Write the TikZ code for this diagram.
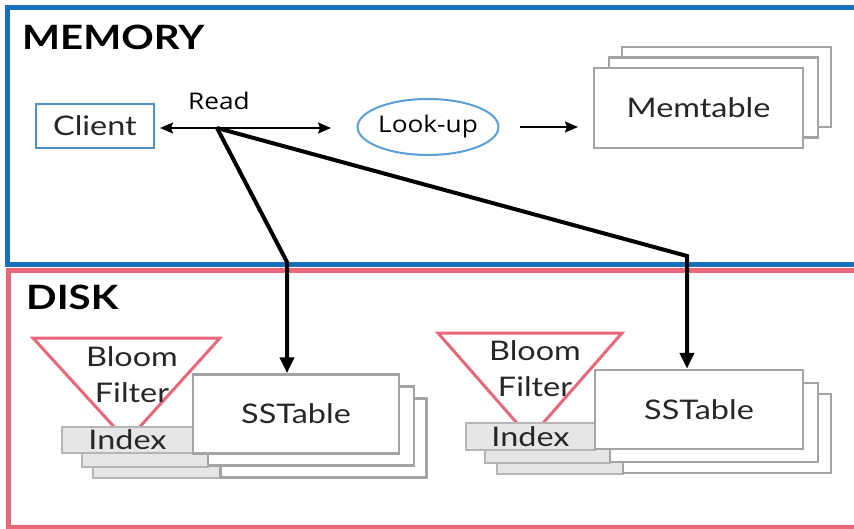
\documentclass[tikz,border=0pt]{standalone}
\usepackage{fontspec}
\setmainfont{Lato}[FakeStretch=1.2]
\newfontfamily\uifont{Open Sans}[FakeStretch=1.14]
\usetikzlibrary{arrows.meta,shapes.geometric}

\definecolor{memblue}{HTML}{1A6FB9}
\definecolor{diskpink}{HTML}{E8687A}
\definecolor{clientblue}{HTML}{4A90CB}
\definecolor{lookblue}{HTML}{5C9FD6}
\definecolor{stackgray}{HTML}{A3A3A3}
\definecolor{indexfill}{HTML}{E6E6E6}

\begin{document}
\begin{tikzpicture}[x=1pt,y=-1pt,
  memframe/.style={draw=memblue, line width=5pt},
  diskframe/.style={draw=diskpink, line width=5pt},
  sectiontitle/.style={font=\fontsize{33.5}{33.5}\selectfont\bfseries, anchor=base west, inner sep=0pt},
  boxtext/.style={font=\fontsize{27}{27}\selectfont, text=black!85},
  uilabel/.style={font=\uifont\fontsize{23}{23}\selectfont, text=black},
  stackbox/.style={draw=stackgray, line width=2.5pt, fill=white, inner sep=0pt},
  idxbox/.style={draw=stackgray!80, line width=1.5pt, fill=indexfill, inner sep=0pt,
    minimum height=26pt},
  bloom/.style={draw=diskpink, line width=3pt, fill=white, line join=miter},
  bloomtext/.style={font=\fontsize{27}{36}\selectfont, align=center, text=black!85},
  thinarrow/.style={line width=2pt, -{Stealth[length=13pt,width=11pt,inset=2pt]}},
  readpath/.style={line width=4pt, line join=miter, -{Triangle[length=16pt,width=14pt]}}
]
\useasboundingbox (0,0) rectangle (854,529);
\fill[white] (0,0) rectangle (854,529);

% ---- memory and disk frames ----
\draw[memframe] (7.5,7.5) rectangle (880,265);
\draw[diskframe] (8,270.5) rectangle (880,527);

\node[sectiontitle] (memtitle) at (22,50) {MEMORY};
\node[sectiontitle] (disktitle) at (26,310) {DISK};

% ---- memory side ----
\node[draw=clientblue, line width=2pt, minimum width=118pt, minimum height=44pt,
      inner sep=0pt, boxtext] (client) at (95,126) {Client};
\node[uilabel] (readlbl) at (219,101) {Read};
\node[draw=lookblue, line width=2pt, ellipse, minimum width=140pt, minimum height=56pt,
      inner sep=0pt, uilabel] (lookup) at (428,127) {Look-up};

\node[stackbox, minimum width=209pt, minimum height=80pt] (mem3) at (726.5,87) {};
\node[stackbox, minimum width=209pt, minimum height=80pt] (mem2) at (713.5,97.5) {};
\node[stackbox, minimum width=209pt, minimum height=80pt, boxtext] (mem1) at (698.5,108) {Memtable};

\coordinate (readpt) at (217,128);
\coordinate (arrL) at (160,128);
\coordinate (arrR) at (331,128);
\draw[line width=2pt, {Stealth[length=13pt,width=11pt,inset=2pt]}-{Stealth[length=13pt,width=11pt,inset=2pt]}]
  (arrL) -- (arrR);
\coordinate (lkR) at (520,127);
\coordinate (memL) at (578,127);
\draw[thinarrow] (lkR) -- (memL);

% ---- disk side, left group ----
\coordinate (bfA1) at (33,338);
\coordinate (bfB1) at (220,338);
\coordinate (bfC1) at (127,441);
\draw[bloom] (bfA1) -- (bfB1) -- (bfC1) -- cycle;
\node[bloomtext] (bftext1) at (132,375) {Bloom\\Filter};

\node[idxbox, minimum width=127pt] (idx13) at (156.5,465) {};
\node[idxbox, minimum width=126pt] (idx12) at (145,454) {};
\node[idxbox, minimum width=131pt, boxtext] (idx11) at (127.5,440) {Index};

\node[stackbox, minimum width=206pt, minimum height=79pt] (sst13) at (323.5,438) {};
\node[stackbox, minimum width=206pt, minimum height=79pt] (sst12) at (311,426) {};
\node[stackbox, minimum width=206pt, minimum height=79pt, boxtext] (sst11) at (296,414) {SSTable};

% ---- disk side, right group ----
\coordinate (bfA2) at (438,333);
\coordinate (bfB2) at (622,333);
\coordinate (bfC2) at (530,438);
\draw[bloom] (bfA2) -- (bfB2) -- (bfC2) -- cycle;
\node[bloomtext] (bftext2) at (535,368.5) {Bloom\\Filter};

\node[idxbox, minimum width=126pt, minimum height=27pt] (idx23) at (560,460.5) {};
\node[idxbox, minimum width=125pt, minimum height=27pt] (idx22) at (547.5,449.5) {};
\node[idxbox, minimum width=129pt, minimum height=27pt, boxtext] (idx21) at (530.5,436.5) {Index};

\node[stackbox, minimum width=208pt, minimum height=79pt] (sst23) at (727,433.5) {};
\node[stackbox, minimum width=208pt, minimum height=79pt] (sst22) at (714,422.5) {};
\node[stackbox, minimum width=208pt, minimum height=79pt, boxtext] (sst21) at (699,409.5) {SSTable};

% ---- read paths from the read point down to each SSTable ----
\coordinate (bend1) at (287,262);
\coordinate (bend2) at (687,256);
\draw[readpath] (readpt) -- (bend1) -- (sst11.north -| bend1);
\draw[readpath] (readpt) -- (bend2) -- (sst21.north -| bend2);
\end{tikzpicture}
\end{document}
